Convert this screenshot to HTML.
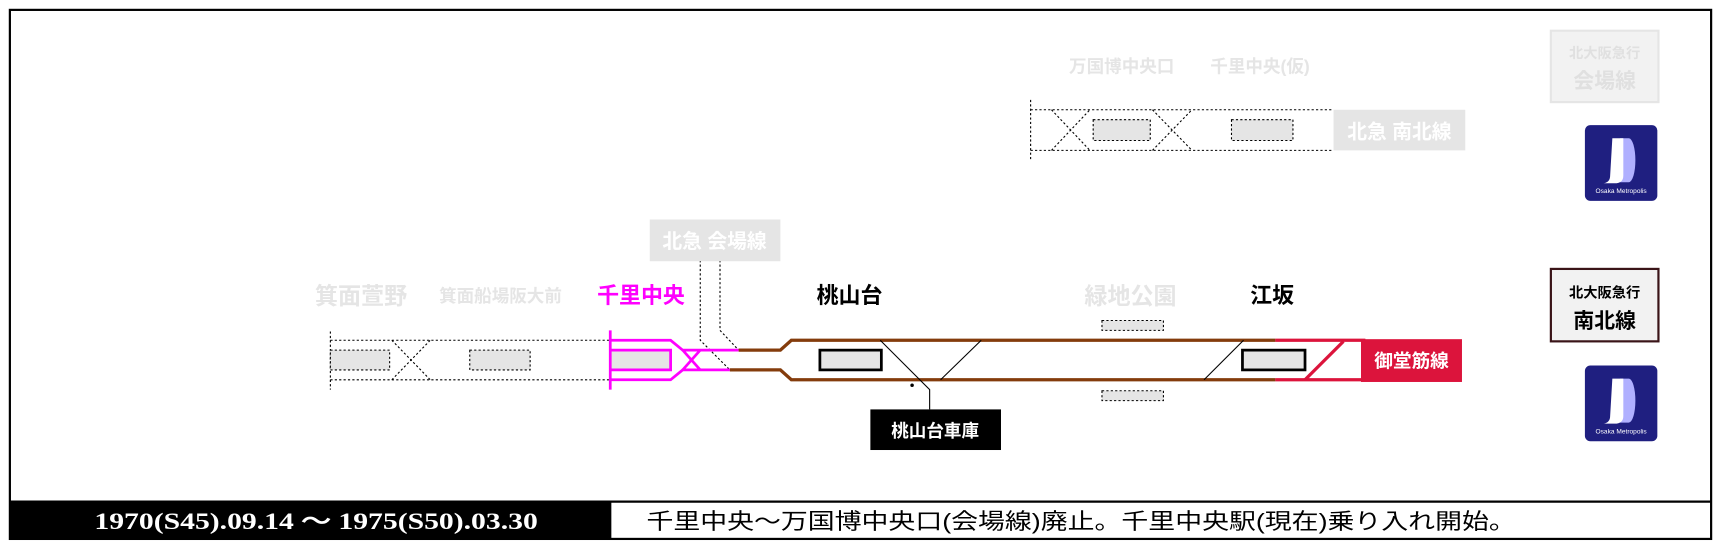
<!DOCTYPE html>
<html><head><meta charset="utf-8"><style>
html,body{margin:0;padding:0;background:#fff;}
svg{display:block;}
text{font-family:"Liberation Sans","Noto Sans CJK JP",sans-serif;font-weight:bold;}
</style></head><body>
<svg width="1721" height="551" viewBox="0 0 1568 502" preserveAspectRatio="none" xmlns="http://www.w3.org/2000/svg">
<rect x="0" y="0" width="1568" height="502" fill="#fff"/>
<rect x="9" y="9" width="1550" height="482" fill="#fff" stroke="#000" stroke-width="2"/>

<!-- bottom bar -->
<rect x="9" y="457" width="548" height="34" fill="#000"/>
<line x1="9" y1="457" x2="1559" y2="457" stroke="#000" stroke-width="2"/>
<text x="86" y="482" fill="#fff" font-size="21" textLength="404" lengthAdjust="spacingAndGlyphs" style="font-family:'Liberation Serif',serif;font-weight:bold">1970(S45).09.14 ～ 1975(S50).03.30</text>
<text x="589" y="482" fill="#000" font-size="20" textLength="792" lengthAdjust="spacingAndGlyphs" style="font-weight:normal">千里中央～万国博中央口(会場線)廃止。千里中央駅(現在)乗り入れ開始。</text>

<!-- top dotted line (会場線) -->
<g stroke="#000" stroke-width="1" stroke-dasharray="2,2" fill="none">
<line x1="939" y1="91" x2="939" y2="146"/>
<line x1="939" y1="100" x2="1214" y2="100"/>
<line x1="939" y1="137" x2="1214" y2="137"/>
<line x1="958" y1="100" x2="993" y2="137"/>
<line x1="958" y1="137" x2="993" y2="100"/>
<line x1="1050" y1="100" x2="1086" y2="137"/>
<line x1="1050" y1="137" x2="1086" y2="100"/>
</g>
<rect x="996" y="109" width="52" height="19" fill="#e5e5e5" stroke="#000" stroke-width="1" stroke-dasharray="2,2"/>
<rect x="1122" y="109" width="56" height="19" fill="#e5e5e5" stroke="#000" stroke-width="1" stroke-dasharray="2,2"/>
<rect x="1215" y="100" width="120" height="37" fill="#e5e5e5"/>
<text x="1275" y="126" fill="#fff" font-size="18" text-anchor="middle">北急 南北線</text>
<text x="1022" y="66" fill="#e5e5e5" font-size="16" text-anchor="middle">万国博中央口</text>
<text x="1148" y="66" fill="#e5e5e5" font-size="16" text-anchor="middle">千里中央(仮)</text>

<!-- left dotted -->
<g stroke="#000" stroke-width="1" stroke-dasharray="2,2" fill="none">
<line x1="301" y1="302" x2="301" y2="355"/>
<line x1="301" y1="310" x2="556" y2="310"/>
<line x1="301" y1="346" x2="556" y2="346"/>
<line x1="357" y1="310" x2="392" y2="346"/>
<line x1="357" y1="346" x2="392" y2="310"/>
<polyline points="638,237 638,310 665,337"/>
<polyline points="656,237 656,301 673,319"/>
</g>
<rect x="301" y="319" width="54" height="18" fill="#e5e5e5" stroke="#000" stroke-width="1" stroke-dasharray="2,2"/>
<rect x="428" y="319" width="55" height="18" fill="#e5e5e5" stroke="#000" stroke-width="1" stroke-dasharray="2,2"/>

<rect x="592" y="200" width="119" height="38" fill="#e5e5e5"/>
<text x="651" y="226" fill="#fff" font-size="18" text-anchor="middle">北急 会場線</text>

<!-- magenta -->
<rect x="556" y="319" width="55" height="18" fill="#e5e5e5"/>
<g stroke="#ff00ff" stroke-width="2.5" fill="none">
<line x1="556" y1="301" x2="556" y2="355"/>
<polyline points="556,310 611,310 622,319 673,319"/>
<polyline points="556,346 611,346 622,337 665,337"/>
<polyline points="556,319 611,319 611,337 556,337"/>
<line x1="622" y1="319" x2="638" y2="337"/>
<line x1="622" y1="337" x2="638" y2="319"/>
</g>

<!-- brown main -->
<g stroke="#843c0c" stroke-width="3" fill="none">
<polyline points="673,319 711,319 721,310 1162,310"/>
<polyline points="665,337 711,337 721,346 1162,346"/>
</g>
<g stroke="#dc143c" stroke-width="3" fill="none">
<line x1="1162" y1="310" x2="1244" y2="310"/>
<line x1="1162" y1="346" x2="1244" y2="346"/>
<line x1="1224" y1="311" x2="1189" y2="346"/>
</g>
<rect x="1240" y="309" width="92" height="39" fill="#dc143c"/>
<text x="1286" y="335" fill="#fff" font-size="17" text-anchor="middle">御堂筋線</text>

<g stroke="#000" stroke-width="1" fill="none">
<line x1="894" y1="310" x2="857" y2="346"/>
<line x1="1133" y1="310" x2="1097" y2="346"/>
<polyline points="802,310 838,346 847,355 847,373"/>
</g>
<circle cx="831" cy="351" r="1.6" fill="#000"/>

<rect x="747" y="319" width="56" height="18" fill="#e5e5e5" stroke="#000" stroke-width="2.5"/>
<rect x="1132" y="319" width="57" height="18" fill="#e5e5e5" stroke="#000" stroke-width="2.5"/>
<rect x="1004" y="292" width="56" height="9" fill="#e5e5e5" stroke="#000" stroke-width="1" stroke-dasharray="2,2"/>
<rect x="1004" y="356" width="56" height="9" fill="#e5e5e5" stroke="#000" stroke-width="1" stroke-dasharray="2,2"/>

<rect x="793" y="373" width="119" height="37" fill="#000"/>
<text x="852" y="398" fill="#fff" font-size="16" text-anchor="middle">桃山台車庫</text>

<!-- station labels -->
<text x="329" y="277" fill="#e5e5e5" font-size="21" text-anchor="middle">箕面萱野</text>
<text x="456" y="275" fill="#e5e5e5" font-size="16" text-anchor="middle">箕面船場阪大前</text>
<text x="584" y="276" fill="#ff00ff" font-size="20" text-anchor="middle">千里中央</text>
<text x="774" y="276" fill="#000" font-size="20" text-anchor="middle">桃山台</text>
<text x="1030" y="277" fill="#e5e5e5" font-size="21" text-anchor="middle">緑地公園</text>
<text x="1159" y="276" fill="#000" font-size="20" text-anchor="middle">江坂</text>

<!-- right boxes -->
<rect x="1413" y="28" width="98" height="65" fill="#f2f2f2" stroke="#e5e5e5" stroke-width="2"/>
<text x="1462" y="53" fill="#e0e0e0" font-size="13" text-anchor="middle">北大阪急行</text>
<text x="1462" y="80" fill="#e0e0e0" font-size="19" text-anchor="middle">会場線</text>
<rect x="1413" y="245" width="98" height="66" fill="#f2f2f2" stroke="#3a1418" stroke-width="2"/>
<text x="1462" y="271" fill="#000" font-size="13" text-anchor="middle">北大阪急行</text>
<text x="1462" y="299" fill="#000" font-size="19" text-anchor="middle">南北線</text>

<g id="logo">
<rect x="1444" y="114" width="66" height="69" rx="5" fill="#1f1f80"/>
<path d="M1476,126 h8 a6,20 0 0 1 0,40 h-8 z" fill="#b0b0ff"/>
<path d="M1469,126 h10 v34 q0,7 -8,7 h-10 q6,-1 6,-7 z" fill="#fff"/>
<text x="1477" y="176" fill="#fff" font-size="6" text-anchor="middle" style="font-weight:normal">Osaka Metropolis</text>
</g>
<g transform="translate(0,219)">
<rect x="1444" y="114" width="66" height="69" rx="5" fill="#1f1f80"/>
<path d="M1476,126 h8 a6,20 0 0 1 0,40 h-8 z" fill="#b0b0ff"/>
<path d="M1469,126 h10 v34 q0,7 -8,7 h-10 q6,-1 6,-7 z" fill="#fff"/>
<text x="1477" y="176" fill="#fff" font-size="6" text-anchor="middle" style="font-weight:normal">Osaka Metropolis</text>
</g>
</svg>
</body></html>
